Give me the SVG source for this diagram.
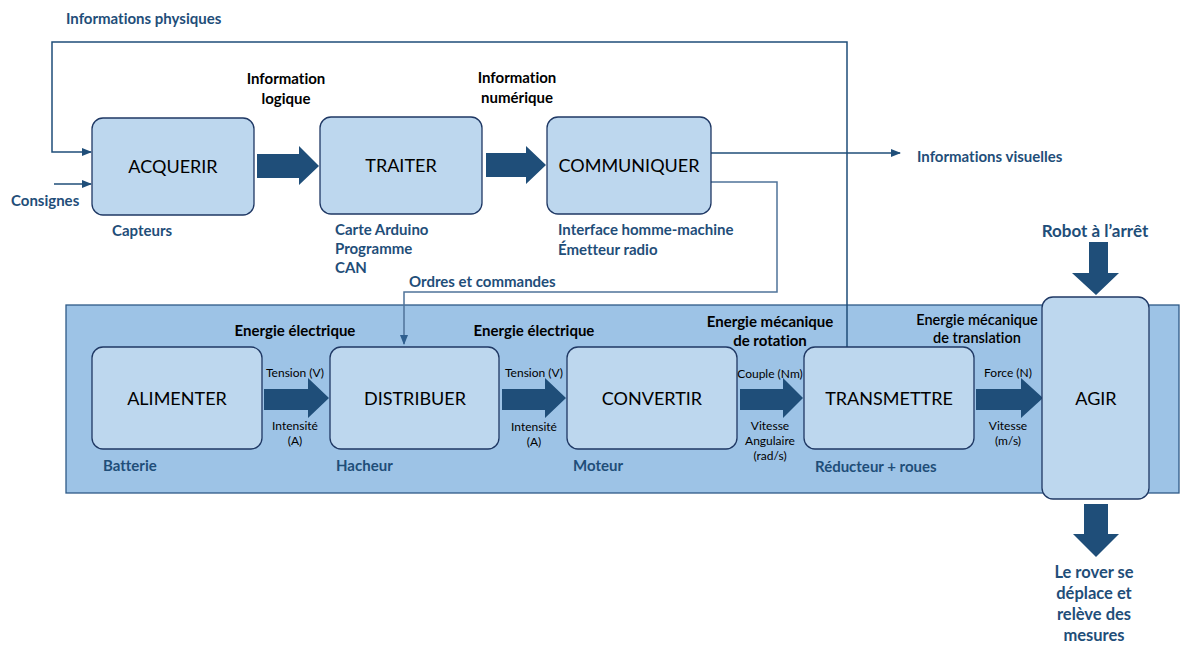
<svg xmlns="http://www.w3.org/2000/svg" width="1194" height="654" viewBox="0 0 1194 654">
<style>
text{font-variant-ligatures:none}
.box{fill:#bdd7ee;stroke:#1f3864;stroke-width:1.3}
.bl{font-family:Lato,"Liberation Sans",sans-serif;font-size:18px;fill:#000;text-anchor:middle;dominant-baseline:central}
.fat{fill:#1f4e79}
.ln{fill:none;stroke:#1f4e79;stroke-width:1.5}
.ln2{fill:none;stroke:#4f7399;stroke-width:1.5}
.bt{font-family:Lato,"Liberation Sans",sans-serif;font-weight:bold;font-size:15px;fill:#1f4e79;dominant-baseline:central}
.kt{font-family:Lato,"Liberation Sans",sans-serif;font-weight:bold;font-size:15px;fill:#000;text-anchor:middle;dominant-baseline:central}
.nt{font-family:Lato,"Liberation Sans",sans-serif;font-weight:600;font-size:14.5px;fill:#000;text-anchor:middle;dominant-baseline:central}
.sm{font-family:Lato,"Liberation Sans",sans-serif;font-size:12px;fill:#000;text-anchor:middle;dominant-baseline:central}
.big{font-size:17px}
.rv{font-size:16.5px}
.mid{text-anchor:middle}
</style>
<defs>
<marker id="ah" markerWidth="10" markerHeight="8" refX="9" refY="4" orient="auto" markerUnits="userSpaceOnUse">
<path d="M0,0 L10,4 L0,8 Z" fill="#1f4e79"/>
</marker>
<marker id="ah2" markerWidth="10" markerHeight="8" refX="9" refY="4" orient="auto" markerUnits="userSpaceOnUse">
<path d="M0,0 L10,4 L0,8 Z" fill="#2f5f8f"/>
</marker>
</defs>
<rect width="1194" height="654" fill="#fff"/>
<rect id="panel" x="66" y="305" width="1113" height="188" fill="#9dc3e6" stroke="#2e5a87" stroke-width="1.3"/>

<g id="connectors">
<polyline class="ln" points="847,347 847,42 52,42 52,152 91,152" marker-end="url(#ah)"/>
<line class="ln" x1="54" y1="184" x2="91" y2="184" marker-end="url(#ah)"/>
<line class="ln" x1="711" y1="153" x2="900" y2="153" marker-end="url(#ah)"/>
<polyline class="ln2" points="711,182 777,182 777,292 404,292 404,344" marker-end="url(#ah2)"/>
<path class="fat" d="M257,154 H299 V146 L319,166 L299,185 V178 H257 Z"/>
<path class="fat" d="M486,153 H526 V146 L546,165 L526,184 V177 H486 Z"/>
<path class="fat" d="M264,389 H308 V378 L329,398 L308,418 V410 H264 Z"/>
<path class="fat" d="M502,389 H545 V378 L566,398 L545,418 V410 H502 Z"/>
<path class="fat" d="M740,389 H783 V378 L803,398 L783,418 V410 H740 Z"/>
<path class="fat" d="M976,389 H1021 V378 L1043,398 L1021,418 V410 H976 Z"/>
<path class="fat" d="M1089,242 H1108 V273 H1119 L1096,295 L1072,273 H1089 Z"/>
<path class="fat" d="M1084,504 H1108 V534 H1119 L1096,557 L1073,534 H1084 Z"/>
</g>

<g id="acquerir"><rect class="box" x="92" y="118" width="162" height="97" rx="11"/><text class="bl" x="173" y="166">ACQUERIR</text></g>
<g id="traiter"><rect class="box" x="320" y="117" width="162" height="97" rx="11"/><text class="bl" x="401" y="165">TRAITER</text></g>
<g id="communiquer"><rect class="box" x="547" y="117" width="164" height="97" rx="11"/><text class="bl" x="629" y="165">COMMUNIQUER</text></g>
<g id="alimenter"><rect class="box" x="92" y="347" width="170" height="102" rx="11"/><text class="bl" x="177" y="398">ALIMENTER</text></g>
<g id="distribuer"><rect class="box" x="330" y="347" width="169" height="102" rx="11"/><text class="bl" x="415" y="398">DISTRIBUER</text></g>
<g id="convertir"><rect class="box" x="567" y="347" width="170" height="102" rx="11"/><text class="bl" x="652" y="398">CONVERTIR</text></g>
<g id="transmettre"><rect class="box" x="804" y="347" width="170" height="102" rx="11"/><text class="bl" x="889" y="398">TRANSMETTRE</text></g>
<g id="agir"><rect class="box" x="1042" y="297" width="107" height="202" rx="11"/><text class="bl" x="1096" y="398">AGIR</text></g>

<g id="labels">
<text class="bt" x="66" y="18">Informations physiques</text>
<text class="bt" x="11" y="200">Consignes</text>
<text class="bt" x="112" y="230">Capteurs</text>
<text class="kt" x="286" y="78">Information</text>
<text class="kt" x="286" y="98">logique</text>
<text class="kt" x="517" y="77">Information</text>
<text class="kt" x="517" y="97">numérique</text>
<text class="bt" x="917" y="156">Informations visuelles</text>
<text class="bt" x="335" y="229">Carte Arduino</text>
<text class="bt" x="335" y="248">Programme</text>
<text class="bt" x="335" y="267">CAN</text>
<text class="bt" x="558" y="229">Interface homme-machine</text>
<text class="bt" x="558" y="249">Émetteur radio</text>
<text class="bt" x="409" y="281">Ordres et commandes</text>
<text class="bt mid big" x="1095" y="230">Robot à l’arrêt</text>
<text class="kt" x="295" y="330">Energie électrique</text>
<text class="kt" x="534" y="330">Energie électrique</text>
<text class="kt" x="770" y="321">Energie mécanique</text>
<text class="kt" x="770" y="340">de rotation</text>
<text class="nt" x="977" y="319">Energie mécanique</text>
<text class="nt" x="977" y="337">de translation</text>
<text class="sm" x="295" y="372">Tension (V)</text>
<text class="sm" x="295" y="425">Intensité</text>
<text class="sm" x="295" y="440">(A)</text>
<text class="sm" x="534" y="372">Tension (V)</text>
<text class="sm" x="534" y="426">Intensité</text>
<text class="sm" x="534" y="441">(A)</text>
<text class="sm" x="770" y="373">Couple (Nm)</text>
<text class="sm" x="770" y="425">Vitesse</text>
<text class="sm" x="770" y="440">Angulaire</text>
<text class="sm" x="770" y="455">(rad/s)</text>
<text class="sm" x="1008" y="372">Force (N)</text>
<text class="sm" x="1008" y="425">Vitesse</text>
<text class="sm" x="1008" y="440">(m/s)</text>
<text class="bt" x="103" y="465">Batterie</text>
<text class="bt" x="336" y="465">Hacheur</text>
<text class="bt" x="573" y="465">Moteur</text>
<text class="bt" x="815" y="466">Réducteur + roues</text>
<text class="bt mid rv" x="1094" y="572">Le rover se</text>
<text class="bt mid rv" x="1094" y="593">déplace et</text>
<text class="bt mid rv" x="1094" y="614">relève des</text>
<text class="bt mid rv" x="1094" y="635">mesures</text>
</g>
</svg>
